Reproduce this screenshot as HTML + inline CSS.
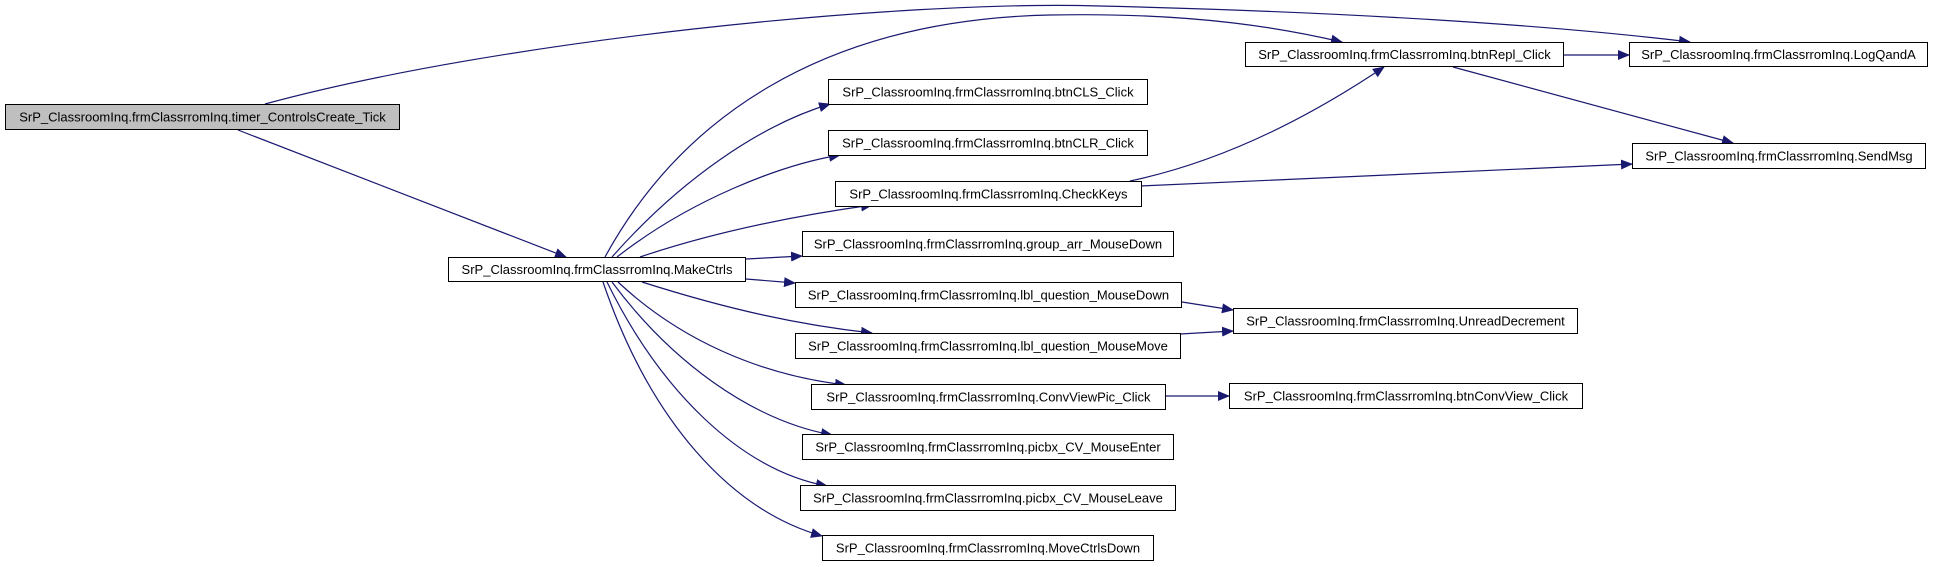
<!DOCTYPE html>
<html><head><meta charset="utf-8"><style>
html,body{margin:0;padding:0;background:#fff;}
svg{display:block;}
text{font-family:"Liberation Sans",Arial,sans-serif;font-size:13px;fill:#000;}
</style></head><body>
<svg width="1933" height="567" viewBox="0 0 1933 567" xmlns="http://www.w3.org/2000/svg">
<defs>
<marker id="a" markerWidth="12" markerHeight="10" refX="11" refY="5" orient="auto" markerUnits="userSpaceOnUse">
<path d="M0,0 L12,5 L0,10 Z" fill="#191970"/>
</marker>
</defs>
<g fill="none" stroke="#191970" stroke-width="1.2" marker-end="url(#a)">
<path d="M265,104 C500,40 900,0 1100,6 C1350,12 1550,25 1690,42"/>
<path d="M238,130 L566,257"/>
<path d="M605,257 C680,120 820,20 1050,15 C1200,12 1290,30 1342,42"/>
<path d="M612,257 C680,180 760,125 830,104"/>
<path d="M617,257 C690,200 780,165 840,155"/>
<path d="M640,257 C720,230 800,215 872,205"/>
<path d="M746,259 L802,256"/>
<path d="M746,279 L795,283"/>
<path d="M642,282 C730,310 800,325 872,333"/>
<path d="M618,282 C680,340 760,375 846,385"/>
<path d="M612,282 C670,360 750,420 832,435"/>
<path d="M607,282 C660,390 740,470 827,486"/>
<path d="M603,282 C650,420 730,510 822,536"/>
<path d="M1564,55 L1629,55"/>
<path d="M1453,67 L1733,143"/>
<path d="M1130,181 C1230,160 1320,110 1384,67"/>
<path d="M1141,186 L1632,164"/>
<path d="M1182,302 L1233,310"/>
<path d="M1180,334 L1233,331"/>
<path d="M1165,396 L1229,396"/>
</g>
<g stroke="#000" stroke-width="1" fill="#fff">
<rect x="5.5" y="104.5" width="394" height="25" fill="#bfbfbf"/>
<rect x="448.5" y="257.5" width="297" height="24"/>
<rect x="1245.5" y="42.5" width="318" height="24"/>
<rect x="1629.5" y="42.5" width="298" height="24"/>
<rect x="1632.5" y="143.5" width="293" height="25"/>
<rect x="828.5" y="79.5" width="319" height="25"/>
<rect x="828.5" y="130.5" width="319" height="25"/>
<rect x="835.5" y="181.5" width="306" height="25"/>
<rect x="802.5" y="231.5" width="371" height="25"/>
<rect x="795.5" y="282.5" width="386" height="25"/>
<rect x="795.5" y="333.5" width="385" height="25"/>
<rect x="811.5" y="384.5" width="354" height="25"/>
<rect x="802.5" y="434.5" width="371" height="25"/>
<rect x="800.5" y="485.5" width="375" height="25"/>
<rect x="822.5" y="535.5" width="331" height="25"/>
<rect x="1233.5" y="308.5" width="344" height="25"/>
<rect x="1229.5" y="383.5" width="353" height="25"/>
</g>
<g text-anchor="middle">
<text x="202.5" y="121.5">SrP_ClassroomInq.frmClassrromInq.timer_ControlsCreate_Tick</text>
<text x="597" y="274">SrP_ClassroomInq.frmClassrromInq.MakeCtrls</text>
<text x="1404.5" y="59">SrP_ClassroomInq.frmClassrromInq.btnRepl_Click</text>
<text x="1778.5" y="59">SrP_ClassroomInq.frmClassrromInq.LogQandA</text>
<text x="1779" y="160.5">SrP_ClassroomInq.frmClassrromInq.SendMsg</text>
<text x="988" y="96.5">SrP_ClassroomInq.frmClassrromInq.btnCLS_Click</text>
<text x="988" y="147.5">SrP_ClassroomInq.frmClassrromInq.btnCLR_Click</text>
<text x="988.5" y="198.5">SrP_ClassroomInq.frmClassrromInq.CheckKeys</text>
<text x="988" y="248.5">SrP_ClassroomInq.frmClassrromInq.group_arr_MouseDown</text>
<text x="988.5" y="299.5">SrP_ClassroomInq.frmClassrromInq.lbl_question_MouseDown</text>
<text x="988" y="350.5">SrP_ClassroomInq.frmClassrromInq.lbl_question_MouseMove</text>
<text x="988.5" y="401.5">SrP_ClassroomInq.frmClassrromInq.ConvViewPic_Click</text>
<text x="988" y="451.5">SrP_ClassroomInq.frmClassrromInq.picbx_CV_MouseEnter</text>
<text x="988" y="502.5">SrP_ClassroomInq.frmClassrromInq.picbx_CV_MouseLeave</text>
<text x="988" y="552.5">SrP_ClassroomInq.frmClassrromInq.MoveCtrlsDown</text>
<text x="1405.5" y="325.5">SrP_ClassroomInq.frmClassrromInq.UnreadDecrement</text>
<text x="1406" y="400.5">SrP_ClassroomInq.frmClassrromInq.btnConvView_Click</text>
</g>
</svg>
</body></html>
